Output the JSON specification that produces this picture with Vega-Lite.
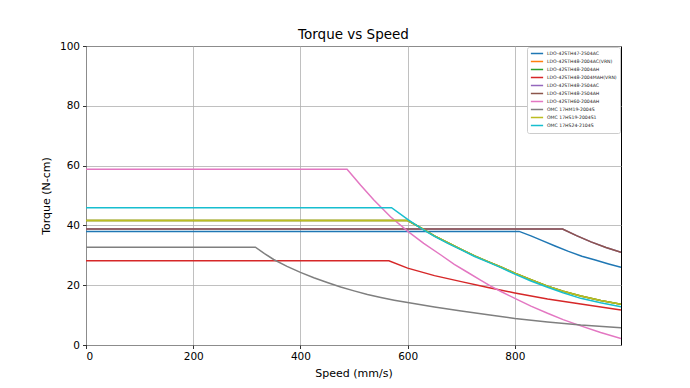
{
  "$schema": "https://vega.github.io/schema/vega-lite/v6.json",
  "width": 535,
  "height": 299,
  "autosize": {"type": "none"},
  "padding": {"left": 86, "top": 46, "right": 69, "bottom": 43},
  "background": "white",
  "title": {"text": "Torque vs Speed", "fontSize": 13.5, "font": "DejaVu Sans", "fontWeight": "normal", "color": "black", "offset": 0, "anchor": "middle"},
  "config": {
    "view": {"stroke": "black", "strokeWidth": 1},
    "axis": {
      "grid": true, "gridColor": "#b0b0b0", "gridWidth": 0.8, "domain": false,
      "tickColor": "black", "tickSize": 3.5, "tickWidth": 0.8,
      "labelFont": "DejaVu Sans", "labelFontSize": 10.5, "labelColor": "black", "labelPadding": 3,
      "titleFont": "DejaVu Sans", "titleFontSize": 11, "titleFontWeight": "normal", "titleColor": "black"
    }
  },
  "datasets": {
    "curves": [
      {"motor": "LDO-42STH47-2504AC", "speed": 0, "torque": 38.0},
      {"motor": "LDO-42STH47-2504AC", "speed": 808, "torque": 38.0},
      {"motor": "LDO-42STH47-2504AC", "speed": 830, "torque": 36.5},
      {"motor": "LDO-42STH47-2504AC", "speed": 850, "torque": 35.0},
      {"motor": "LDO-42STH47-2504AC", "speed": 875, "torque": 33.1},
      {"motor": "LDO-42STH47-2504AC", "speed": 900, "torque": 31.3},
      {"motor": "LDO-42STH47-2504AC", "speed": 925, "torque": 29.7},
      {"motor": "LDO-42STH47-2504AC", "speed": 950, "torque": 28.4},
      {"motor": "LDO-42STH47-2504AC", "speed": 975, "torque": 27.1},
      {"motor": "LDO-42STH47-2504AC", "speed": 998, "torque": 26.0},

      {"motor": "LDO-42STH48-2004AC(VRN)", "speed": 0, "torque": 41.6},
      {"motor": "LDO-42STH48-2004AC(VRN)", "speed": 600, "torque": 41.6},
      {"motor": "LDO-42STH48-2004AC(VRN)", "speed": 625, "torque": 39.2},
      {"motor": "LDO-42STH48-2004AC(VRN)", "speed": 650, "torque": 36.5},
      {"motor": "LDO-42STH48-2004AC(VRN)", "speed": 675, "torque": 34.2},
      {"motor": "LDO-42STH48-2004AC(VRN)", "speed": 700, "torque": 32.0},
      {"motor": "LDO-42STH48-2004AC(VRN)", "speed": 725, "torque": 29.8},
      {"motor": "LDO-42STH48-2004AC(VRN)", "speed": 750, "torque": 27.9},
      {"motor": "LDO-42STH48-2004AC(VRN)", "speed": 775, "torque": 26.0},
      {"motor": "LDO-42STH48-2004AC(VRN)", "speed": 800, "torque": 24.0},
      {"motor": "LDO-42STH48-2004AC(VRN)", "speed": 830, "torque": 21.8},
      {"motor": "LDO-42STH48-2004AC(VRN)", "speed": 861, "torque": 19.7},
      {"motor": "LDO-42STH48-2004AC(VRN)", "speed": 890, "torque": 18.0},
      {"motor": "LDO-42STH48-2004AC(VRN)", "speed": 923, "torque": 16.4},
      {"motor": "LDO-42STH48-2004AC(VRN)", "speed": 960, "torque": 14.9},
      {"motor": "LDO-42STH48-2004AC(VRN)", "speed": 998, "torque": 13.6},

      {"motor": "LDO-42STH48-2004AH", "speed": 0, "torque": 41.6},
      {"motor": "LDO-42STH48-2004AH", "speed": 600, "torque": 41.6},
      {"motor": "LDO-42STH48-2004AH", "speed": 625, "torque": 39.2},
      {"motor": "LDO-42STH48-2004AH", "speed": 650, "torque": 36.5},
      {"motor": "LDO-42STH48-2004AH", "speed": 675, "torque": 34.2},
      {"motor": "LDO-42STH48-2004AH", "speed": 700, "torque": 32.0},
      {"motor": "LDO-42STH48-2004AH", "speed": 725, "torque": 29.8},
      {"motor": "LDO-42STH48-2004AH", "speed": 750, "torque": 27.9},
      {"motor": "LDO-42STH48-2004AH", "speed": 775, "torque": 26.0},
      {"motor": "LDO-42STH48-2004AH", "speed": 800, "torque": 24.0},
      {"motor": "LDO-42STH48-2004AH", "speed": 830, "torque": 21.8},
      {"motor": "LDO-42STH48-2004AH", "speed": 861, "torque": 19.7},
      {"motor": "LDO-42STH48-2004AH", "speed": 890, "torque": 18.0},
      {"motor": "LDO-42STH48-2004AH", "speed": 923, "torque": 16.4},
      {"motor": "LDO-42STH48-2004AH", "speed": 960, "torque": 14.9},
      {"motor": "LDO-42STH48-2004AH", "speed": 998, "torque": 13.6},

      {"motor": "LDO-42STH48-2004MAH(VRN)", "speed": 0, "torque": 28.2},
      {"motor": "LDO-42STH48-2004MAH(VRN)", "speed": 565, "torque": 28.2},
      {"motor": "LDO-42STH48-2004MAH(VRN)", "speed": 600, "torque": 25.7},
      {"motor": "LDO-42STH48-2004MAH(VRN)", "speed": 650, "torque": 23.2},
      {"motor": "LDO-42STH48-2004MAH(VRN)", "speed": 700, "torque": 21.2},
      {"motor": "LDO-42STH48-2004MAH(VRN)", "speed": 750, "torque": 19.2},
      {"motor": "LDO-42STH48-2004MAH(VRN)", "speed": 800, "torque": 17.4},
      {"motor": "LDO-42STH48-2004MAH(VRN)", "speed": 861, "torque": 15.4},
      {"motor": "LDO-42STH48-2004MAH(VRN)", "speed": 923, "torque": 13.7},
      {"motor": "LDO-42STH48-2004MAH(VRN)", "speed": 998, "torque": 11.7},

      {"motor": "LDO-42STH48-2504AC", "speed": 0, "torque": 38.8},
      {"motor": "LDO-42STH48-2504AC", "speed": 889, "torque": 38.8},
      {"motor": "LDO-42STH48-2504AC", "speed": 915, "torque": 36.6},
      {"motor": "LDO-42STH48-2504AC", "speed": 942, "torque": 34.5},
      {"motor": "LDO-42STH48-2504AC", "speed": 970, "torque": 32.6},
      {"motor": "LDO-42STH48-2504AC", "speed": 998, "torque": 31.0},

      {"motor": "LDO-42STH48-2504AH", "speed": 0, "torque": 38.8},
      {"motor": "LDO-42STH48-2504AH", "speed": 889, "torque": 38.8},
      {"motor": "LDO-42STH48-2504AH", "speed": 915, "torque": 36.6},
      {"motor": "LDO-42STH48-2504AH", "speed": 942, "torque": 34.5},
      {"motor": "LDO-42STH48-2504AH", "speed": 970, "torque": 32.6},
      {"motor": "LDO-42STH48-2504AH", "speed": 998, "torque": 31.0},

      {"motor": "LDO-42STH60-2004AH", "speed": 0, "torque": 58.8},
      {"motor": "LDO-42STH60-2004AH", "speed": 487, "torque": 58.8},
      {"motor": "LDO-42STH60-2004AH", "speed": 512, "torque": 53.5},
      {"motor": "LDO-42STH60-2004AH", "speed": 537, "torque": 48.5},
      {"motor": "LDO-42STH60-2004AH", "speed": 568, "torque": 42.9},
      {"motor": "LDO-42STH60-2004AH", "speed": 601, "torque": 37.9},
      {"motor": "LDO-42STH60-2004AH", "speed": 630, "torque": 34.0},
      {"motor": "LDO-42STH60-2004AH", "speed": 662, "torque": 30.1},
      {"motor": "LDO-42STH60-2004AH", "speed": 687, "torque": 27.0},
      {"motor": "LDO-42STH60-2004AH", "speed": 710, "torque": 24.5},
      {"motor": "LDO-42STH60-2004AH", "speed": 736, "torque": 21.7},
      {"motor": "LDO-42STH60-2004AH", "speed": 755, "torque": 19.7},
      {"motor": "LDO-42STH60-2004AH", "speed": 775, "torque": 17.8},
      {"motor": "LDO-42STH60-2004AH", "speed": 800, "torque": 15.6},
      {"motor": "LDO-42STH60-2004AH", "speed": 830, "torque": 13.0},
      {"motor": "LDO-42STH60-2004AH", "speed": 861, "torque": 10.6},
      {"motor": "LDO-42STH60-2004AH", "speed": 890, "torque": 8.5},
      {"motor": "LDO-42STH60-2004AH", "speed": 923, "torque": 6.4},
      {"motor": "LDO-42STH60-2004AH", "speed": 960, "torque": 4.2},
      {"motor": "LDO-42STH60-2004AH", "speed": 998, "torque": 2.2},

      {"motor": "OMC 17HM19-2004S", "speed": 0, "torque": 32.7},
      {"motor": "OMC 17HM19-2004S", "speed": 316, "torque": 32.7},
      {"motor": "OMC 17HM19-2004S", "speed": 333, "torque": 30.6},
      {"motor": "OMC 17HM19-2004S", "speed": 350, "torque": 28.6},
      {"motor": "OMC 17HM19-2004S", "speed": 375, "torque": 26.3},
      {"motor": "OMC 17HM19-2004S", "speed": 400, "torque": 24.3},
      {"motor": "OMC 17HM19-2004S", "speed": 425, "torque": 22.5},
      {"motor": "OMC 17HM19-2004S", "speed": 450, "torque": 20.9},
      {"motor": "OMC 17HM19-2004S", "speed": 475, "torque": 19.4},
      {"motor": "OMC 17HM19-2004S", "speed": 500, "torque": 18.1},
      {"motor": "OMC 17HM19-2004S", "speed": 525, "torque": 16.9},
      {"motor": "OMC 17HM19-2004S", "speed": 550, "torque": 15.9},
      {"motor": "OMC 17HM19-2004S", "speed": 575, "torque": 15.0},
      {"motor": "OMC 17HM19-2004S", "speed": 600, "torque": 14.2},
      {"motor": "OMC 17HM19-2004S", "speed": 650, "torque": 12.7},
      {"motor": "OMC 17HM19-2004S", "speed": 700, "torque": 11.4},
      {"motor": "OMC 17HM19-2004S", "speed": 750, "torque": 10.1},
      {"motor": "OMC 17HM19-2004S", "speed": 800, "torque": 8.9},
      {"motor": "OMC 17HM19-2004S", "speed": 861, "torque": 7.7},
      {"motor": "OMC 17HM19-2004S", "speed": 923, "torque": 6.7},
      {"motor": "OMC 17HM19-2004S", "speed": 998, "torque": 5.8},

      {"motor": "OMC 17HS19-2004S1", "speed": 0, "torque": 41.6},
      {"motor": "OMC 17HS19-2004S1", "speed": 600, "torque": 41.6},
      {"motor": "OMC 17HS19-2004S1", "speed": 625, "torque": 39.2},
      {"motor": "OMC 17HS19-2004S1", "speed": 650, "torque": 36.5},
      {"motor": "OMC 17HS19-2004S1", "speed": 675, "torque": 34.2},
      {"motor": "OMC 17HS19-2004S1", "speed": 700, "torque": 32.0},
      {"motor": "OMC 17HS19-2004S1", "speed": 725, "torque": 29.8},
      {"motor": "OMC 17HS19-2004S1", "speed": 750, "torque": 27.9},
      {"motor": "OMC 17HS19-2004S1", "speed": 775, "torque": 26.0},
      {"motor": "OMC 17HS19-2004S1", "speed": 800, "torque": 24.0},
      {"motor": "OMC 17HS19-2004S1", "speed": 830, "torque": 21.8},
      {"motor": "OMC 17HS19-2004S1", "speed": 861, "torque": 19.7},
      {"motor": "OMC 17HS19-2004S1", "speed": 890, "torque": 18.0},
      {"motor": "OMC 17HS19-2004S1", "speed": 923, "torque": 16.4},
      {"motor": "OMC 17HS19-2004S1", "speed": 960, "torque": 14.9},
      {"motor": "OMC 17HS19-2004S1", "speed": 998, "torque": 13.6},

      {"motor": "OMC 17HS24-2104S", "speed": 0, "torque": 45.9},
      {"motor": "OMC 17HS24-2104S", "speed": 570, "torque": 45.9},
      {"motor": "OMC 17HS24-2104S", "speed": 600, "torque": 42.0},
      {"motor": "OMC 17HS24-2104S", "speed": 625, "torque": 39.0},
      {"motor": "OMC 17HS24-2104S", "speed": 650, "torque": 36.3},
      {"motor": "OMC 17HS24-2104S", "speed": 675, "torque": 34.0},
      {"motor": "OMC 17HS24-2104S", "speed": 700, "torque": 31.8},
      {"motor": "OMC 17HS24-2104S", "speed": 725, "torque": 29.6},
      {"motor": "OMC 17HS24-2104S", "speed": 750, "torque": 27.7},
      {"motor": "OMC 17HS24-2104S", "speed": 775, "torque": 25.8},
      {"motor": "OMC 17HS24-2104S", "speed": 800, "torque": 23.7},
      {"motor": "OMC 17HS24-2104S", "speed": 830, "torque": 21.4},
      {"motor": "OMC 17HS24-2104S", "speed": 861, "torque": 19.3},
      {"motor": "OMC 17HS24-2104S", "speed": 890, "torque": 17.5},
      {"motor": "OMC 17HS24-2104S", "speed": 923, "torque": 15.6},
      {"motor": "OMC 17HS24-2104S", "speed": 960, "torque": 14.1},
      {"motor": "OMC 17HS24-2104S", "speed": 998, "torque": 12.8}
    ]
  },
  "data": {"name": "curves"},
  "mark": {"type": "line", "strokeWidth": 1.5, "clip": true},
  "encoding": {
    "x": {"field": "speed", "type": "quantitative", "scale": {"domain": [0, 998], "nice": false, "zero": false},
          "axis": {"values": [0, 200, 400, 600, 800], "title": "Speed (mm/s)", "titlePadding": 5}},
    "y": {"field": "torque", "type": "quantitative", "scale": {"domain": [0, 100], "nice": false},
          "axis": {"values": [0, 20, 40, 60, 80, 100], "title": "Torque (N-cm)", "titlePadding": 8}},
    "color": {"field": "motor", "type": "nominal",
      "scale": {
        "domain": ["LDO-42STH47-2504AC", "LDO-42STH48-2004AC(VRN)", "LDO-42STH48-2004AH", "LDO-42STH48-2004MAH(VRN)", "LDO-42STH48-2504AC", "LDO-42STH48-2504AH", "LDO-42STH60-2004AH", "OMC 17HM19-2004S", "OMC 17HS19-2004S1", "OMC 17HS24-2104S"],
        "range": ["#1f77b4", "#ff7f0e", "#2ca02c", "#d62728", "#9467bd", "#8c564b", "#e377c2", "#7f7f7f", "#bcbd22", "#17becf"]
      },
      "legend": {
        "title": null, "orient": "none", "legendX": 441, "legendY": 1,
        "symbolType": "stroke", "symbolStrokeWidth": 1.5, "symbolSize": 150,
        "clipHeight": 7.2, "rowPadding": 0,
        "labelFont": "DejaVu Sans", "labelFontSize": 4.6, "labelColor": "#222", "labelOffset": 3,
        "strokeColor": "#cccccc", "fillColor": "white", "padding": 3, "cornerRadius": 2
      }
    }
  }
}
